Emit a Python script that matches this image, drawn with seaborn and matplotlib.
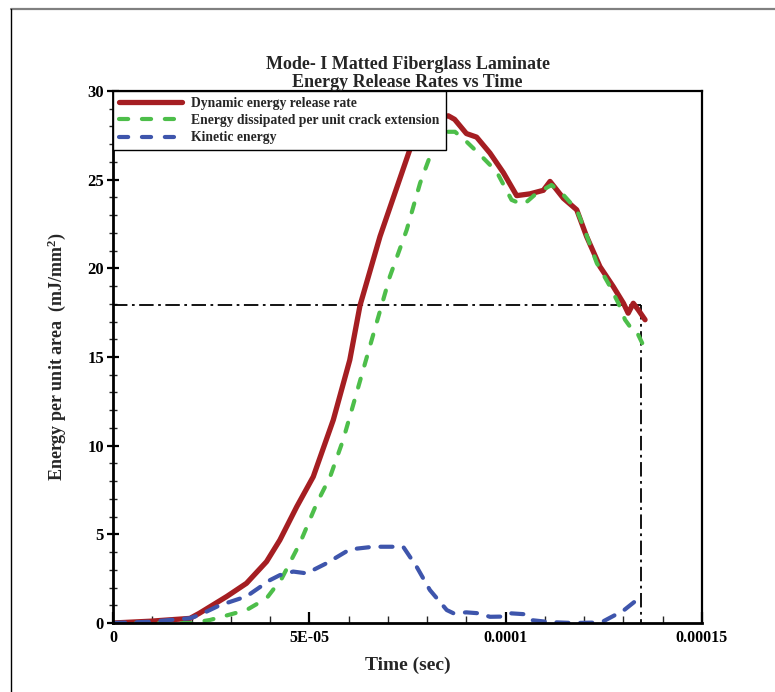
import numpy as np
import pandas as pd
import matplotlib
matplotlib.use("Agg")
import matplotlib.pyplot as plt
import seaborn as sns
from matplotlib.ticker import MultipleLocator, FixedLocator
from matplotlib.lines import Line2D

# ---- data (time in units of 1e-5 s, energy in mJ/mm^2) ----
t_dyn = [0.0, 0.94, 1.96, 2.2, 2.9, 3.4, 3.91, 4.25, 4.68, 5.1, 5.61, 6.03, 6.29, 6.8,
         7.56, 8.0, 8.33, 8.54, 8.7, 9.0, 9.26, 9.6, 9.94, 10.28, 10.62, 10.96, 11.13, 11.47, 11.81,
         12.06, 12.4, 12.74, 13.0, 13.12, 13.25, 13.38, 13.55]
g_dyn = [0.0, 0.1, 0.26, 0.55, 1.5, 2.24, 3.46, 4.68, 6.56, 8.25, 11.45, 14.83, 17.9, 21.8,
         26.7, 27.9, 28.5, 28.6, 28.4, 27.6, 27.4, 26.5, 25.4, 24.1, 24.2, 24.4, 24.9, 23.95, 23.3,
         21.8, 20.1, 18.97, 18.03, 17.47, 18.03, 17.65, 17.1]

t_dis = [0.0, 2.0, 2.47, 3.4, 3.91, 4.3, 4.76, 5.19, 5.53, 5.86, 6.03, 6.71, 7.05, 7.48,
         7.82, 8.07, 8.41, 8.71, 9.0, 9.35, 9.77, 10.15, 10.45, 10.79, 11.17, 11.47, 11.81,
         11.98, 12.32, 12.66, 12.87, 13.04, 13.17, 13.3, 13.5]
g_dis = [0.0, 0.0, 0.17, 0.73, 1.39, 2.52, 4.5, 6.75, 8.25, 10.32, 11.63, 16.9, 19.53, 22.17,
         24.8, 26.3, 27.7, 27.7, 27.15, 26.4, 25.45, 23.86, 23.58, 24.24, 24.7, 24.14, 23.3,
         22.35, 20.3, 18.97, 18.03, 17.1, 16.7, 16.6, 15.68]

t_kin = [0.0, 0.94, 1.96, 2.2, 2.72, 3.4, 4.0, 4.25, 4.59, 4.93, 5.44, 6.03, 6.63, 7.39,
         7.73, 8.07, 8.5, 8.67, 9.0, 9.3, 9.6, 9.86, 10.1, 10.45, 10.62, 11.13, 11.72, 12.2,
         12.49, 13.0, 13.34, 13.5]
g_kin = [0.0, 0.07, 0.27, 0.45, 1.0, 1.5, 2.42, 2.7, 2.9, 2.8, 3.37, 4.15, 4.3, 4.3,
         3.18, 1.86, 0.73, 0.55, 0.6, 0.55, 0.35, 0.36, 0.55, 0.5, 0.17, 0.05, 0.0, 0.02,
         0.1, 0.7, 1.3, 1.58]

crit_time = 13.45   # x1e-5 s
crit_energy = 17.93

labels = ["Dynamic energy release rate",
          "Energy dissipated per unit crack extension",
          "Kinetic energy"]
colors = ["#A51E22", "#4DBE4A", "#3E55AC"]

x_ticks = [0, 5e-5, 1e-4, 1.5e-4]
x_ticklabels = ["0", "5E-05", "0.0001", "0.00015"]
y_ticks = [0, 5, 10, 15, 20, 25, 30]

# ---- figure ----
sns.set_style("ticks")
plt.rcParams['font.family'] = ['Liberation Serif', 'DejaVu Serif']
plt.rcParams['font.weight'] = 'bold'
plt.rcParams['mathtext.fontset'] = 'custom'
plt.rcParams['mathtext.rm'] = 'Liberation Serif:bold'
plt.rcParams['mathtext.it'] = 'Liberation Serif:bold'
plt.rcParams['mathtext.bf'] = 'Liberation Serif:bold'

fig = plt.figure(figsize=(7.75, 6.92), dpi=100)
ax = fig.add_axes([113/775, 1-623/692, (702-113)/775, (623-91)/692])

s = 1e-5
green_dash = (2.2, 3.3)
blue_dash = (2.9, 2.8)
sns.lineplot(x=np.array(t_dyn)*s, y=g_dyn, ax=ax, color=colors[0], lw=3.8,
             sort=False, estimator=None)
sns.lineplot(x=np.array(t_dis)*s, y=g_dis, ax=ax, color=colors[1], lw=3.0,
             sort=False, estimator=None)
sns.lineplot(x=np.array(t_kin)*s, y=g_kin, ax=ax, color=colors[2], lw=3.0,
             sort=False, estimator=None)
ax.lines[0].set_solid_capstyle('round')
ax.lines[0].set_solid_joinstyle('round')
ax.lines[1].set_dashes(green_dash)
ax.lines[1].set_dash_capstyle('round')
ax.lines[2].set_dashes(blue_dash)
ax.lines[2].set_dash_capstyle('round')

# critical lines
ax.plot([0, crit_time*s], [crit_energy, crit_energy], color='black', lw=1.3,
        ls=(0, (8, 2.5, 1.5, 2.5)), zorder=1)
ax.plot([crit_time*s, crit_time*s], [crit_energy, 0], color='black', lw=1.3,
        ls=(0, (8, 2.5, 1.5, 2.5)), zorder=1)

ax.set_xlim(0, 1.5e-4)
ax.set_ylim(0, 30)
ax.xaxis.set_major_locator(FixedLocator(x_ticks))
ax.set_xticklabels(x_ticklabels)
ax.xaxis.set_minor_locator(MultipleLocator(1e-5))
ax.yaxis.set_major_locator(FixedLocator(y_ticks))
ax.yaxis.set_minor_locator(MultipleLocator(1))

for sp in ax.spines.values():
    sp.set_visible(True)
    sp.set_linewidth(1.6)
    sp.set_color('black')
ax.spines['left'].set_linewidth(2.0)
ax.spines['bottom'].set_linewidth(2.0)

ax.tick_params(axis='y', which='major', direction='inout', length=9, width=1.6,
               labelsize=12, pad=2, colors='black')
ax.tick_params(axis='y', which='minor', direction='inout', length=6, width=1.0)
ax.tick_params(axis='x', which='major', direction='in', length=8, width=1.6,
               labelsize=11.5, pad=5, colors='black')
ax.tick_params(axis='x', which='minor', direction='in', length=5, width=1.0)
ax.tick_params(top=False, right=False, which='both')
for lab in ax.get_xticklabels() + ax.get_yticklabels():
    lab.set_fontweight('bold')

ax.set_xlabel("Time (sec)", fontsize=14, fontweight='bold', labelpad=8)
ax.set_ylabel(r"Energy per unit area  (mJ/mm$^{2}$)", fontsize=13, fontweight='bold', labelpad=14)
ax.set_title("Mode- I Matted Fiberglass Laminate\nEnergy Release Rates vs Time",
             fontsize=13, fontweight='bold', linespacing=1.1, pad=2)

handles = [Line2D([], [], color=colors[0], lw=3.8, solid_capstyle='round'),
           Line2D([], [], color=colors[1], lw=3.0, dashes=green_dash, dash_capstyle='round'),
           Line2D([], [], color=colors[2], lw=3.0, dashes=green_dash, dash_capstyle='round')]
leg = ax.legend(handles, labels, loc='upper left', bbox_to_anchor=(0, 1),
                borderaxespad=0, frameon=True, fancybox=False, handlelength=4.6,
                handletextpad=0.7, labelspacing=0.3, borderpad=0.45,
                prop={'family': 'Liberation Serif', 'weight': 'bold', 'size': 9.8})
leg.get_frame().set_edgecolor('black')
leg.get_frame().set_linewidth(1.0)
leg.get_frame().set_alpha(1)

# outer page frame
fig.add_artist(Line2D([11/775, 1], [1-8.5/692, 1-8.5/692], color='#808080', lw=1.6,
                      transform=fig.transFigure))
fig.add_artist(Line2D([11/775, 11/775], [0, 1-8.5/692], color='black', lw=1.0,
                      transform=fig.transFigure))

fig.savefig("out.png", dpi=100, facecolor='white')
